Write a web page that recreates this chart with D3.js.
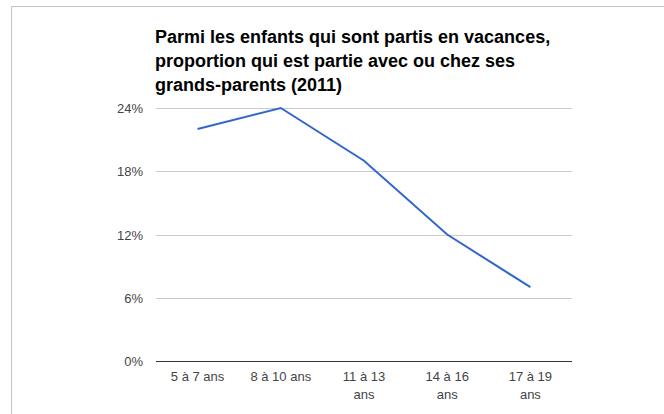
<!DOCTYPE html>
<html>
<head>
<meta charset="utf-8">
<script src="https://cdn.jsdelivr.net/npm/d3@7"></script>
<style>
  body { margin: 0; background: #fff; }
  svg { display: block; font-family: "Liberation Sans", Arial, sans-serif; }
</style>
</head>
<body>
<div id="chart"></div>
<script>
// chart data
var categories = ['5 à 7 ans', '8 à 10 ans', '11 à 13 ans', '14 à 16 ans', '17 à 19 ans'];
var values = [22, 24, 19, 12, 7];
var yTicks = [0, 6, 12, 18, 24];
var titleLines = [
  'Parmi les enfants qui sont partis en vacances,',
  'proportion qui est partie avec ou chez ses',
  'grands-parents (2011)'
];

var width = 664, height = 414;
var plot = { left: 156, right: 572, top: 108, bottom: 361 };

var svg = d3.select('#chart').append('svg')
  .attr('width', width)
  .attr('height', height);

// outer frame (top and left edges visible)
svg.append('path')
  .attr('d', 'M 11.5 ' + height + ' L 11.5 6.5 L ' + width + ' 6.5')
  .attr('fill', 'none')
  .attr('stroke', '#c4c4c4')
  .attr('stroke-width', 1);

// title
svg.append('text')
  .attr('x', 155)
  .attr('y', 43)
  .attr('font-size', 18)
  .attr('font-weight', 'bold')
  .attr('fill', '#000')
  .selectAll('tspan')
  .data(titleLines)
  .enter().append('tspan')
  .attr('x', 155)
  .attr('dy', function(d, i) { return i === 0 ? 0 : 24; })
  .text(function(d) { return d; });

var x = d3.scaleBand()
  .domain(categories)
  .range([plot.left, plot.right]);

var y = d3.scaleLinear()
  .domain([0, 24])
  .range([plot.bottom, plot.top]);

// gridlines
svg.append('g')
  .selectAll('line')
  .data(yTicks.filter(function(d) { return d > 0; }))
  .enter().append('line')
  .attr('x1', plot.left)
  .attr('x2', plot.right)
  .attr('y1', function(d) { return Math.round(y(d)) + 0.5; })
  .attr('y2', function(d) { return Math.round(y(d)) + 0.5; })
  .attr('stroke', '#cccccc');

// y labels
svg.append('g')
  .selectAll('text')
  .data(yTicks)
  .enter().append('text')
  .attr('x', 143)
  .attr('y', function(d) { return y(d) + 5; })
  .attr('text-anchor', 'end')
  .attr('font-size', 13)
  .attr('fill', '#444')
  .text(function(d) { return d + '%'; });

// baseline
svg.append('line')
  .attr('x1', plot.left)
  .attr('x2', plot.right)
  .attr('y1', Math.round(y(0)) + 0.5)
  .attr('y2', Math.round(y(0)) + 0.5)
  .attr('stroke', '#333')
  .attr('stroke-width', 1);

// x labels, wrapped like the original
function wrapLabel(s) {
  if (s.length <= 10) return [s];
  var i = s.lastIndexOf(' ');
  return [s.slice(0, i), s.slice(i + 1)];
}

svg.append('g')
  .selectAll('text')
  .data(categories)
  .enter().append('text')
  .attr('text-anchor', 'middle')
  .attr('font-size', 13)
  .attr('fill', '#444')
  .each(function(d) {
    var cx = x(d) + x.bandwidth() / 2;
    d3.select(this).selectAll('tspan')
      .data(wrapLabel(d))
      .enter().append('tspan')
      .attr('x', cx)
      .attr('y', function(t, i) { return 381 + i * 18; })
      .text(function(t) { return t; });
  });

// the line
var line = d3.line()
  .x(function(d, i) { return x(categories[i]) + x.bandwidth() / 2; })
  .y(function(d) { return y(d); });

svg.append('path')
  .datum(values)
  .attr('d', line)
  .attr('fill', 'none')
  .attr('stroke', '#3366cc')
  .attr('stroke-width', 2);
</script>
</body>
</html>
